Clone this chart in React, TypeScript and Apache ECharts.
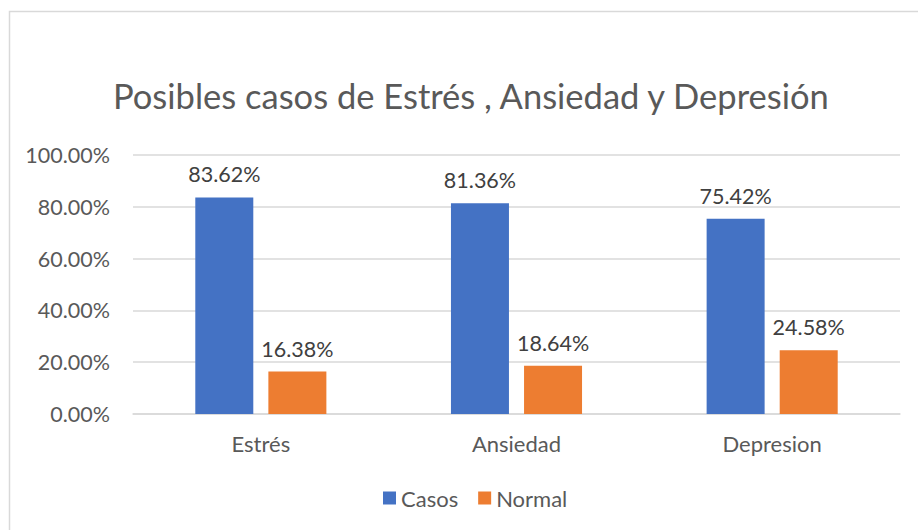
import React, { useEffect, useRef } from "react";
import * as echarts from "echarts";

const categories = ["Estrés", "Ansiedad", "Depresion"];
const casos = [83.62, 81.36, 75.42];
const normal = [16.38, 18.64, 24.58];
const titleText = "Posibles casos de Estrés , Ansiedad y Depresión";

const FONT = "Lato, 'Open Sans', sans-serif";

export default function App() {
  const ref = useRef<HTMLDivElement>(null);
  useEffect(() => {
    if (!ref.current) return;
    const chart = echarts.init(ref.current, undefined, { renderer: "svg" });
    const label = {
      show: true,
      position: "top",
      distance: 12,
      color: "#404040",
      fontSize: 21.5,
      fontFamily: FONT,
      formatter: (p: any) => p.value.toFixed(2) + "%",
    };
    chart.setOption({
      animation: false,
      backgroundColor: "#ffffff",
      textStyle: { fontFamily: FONT },
      title: {
        text: titleText,
        left: 108,
        top: 73,
        textStyle: { color: "#595959", fontSize: 34.5, fontWeight: "normal", fontFamily: FONT },
      },
      graphic: [
        {
          type: "rect",
          shape: { x: 9.5, y: 11.5, width: 1000, height: 1000 },
          style: { fill: "none", stroke: "#d9d9d9", lineWidth: 1.5 },
          silent: true,
        },
      ],
      legend: {
        top: 482,
        left: 378,
        itemWidth: 13,
        itemHeight: 13,
        itemGap: 20,
        icon: "rect",
        textStyle: { color: "#595959", fontSize: 22, fontFamily: FONT },
        data: ["Casos", "Normal"],
      },
      grid: { left: 133, right: 18, top: 155, bottom: 116, containLabel: false },
      xAxis: {
        type: "category",
        data: categories,
        axisTick: { show: false },
        axisLine: { lineStyle: { color: "#d9d9d9", width: 1.5 } },
        axisLabel: { color: "#595959", fontSize: 22, margin: 18, fontFamily: FONT },
      },
      yAxis: {
        type: "value",
        min: 0,
        max: 100,
        interval: 20,
        axisLine: { show: false },
        axisTick: { show: false },
        splitLine: { lineStyle: { color: "#d9d9d9", width: 1.5 } },
        axisLabel: {
          color: "#595959",
          fontSize: 21.5,
          margin: 23,
          fontFamily: FONT,
          formatter: (v: number) => v.toFixed(2) + "%",
        },
      },
      series: [
        {
          name: "Casos",
          type: "bar",
          data: casos,
          barWidth: 58,
          barGap: "26%",
          itemStyle: { color: "#4472c4" },
          label,
        },
        {
          name: "Normal",
          type: "bar",
          data: normal,
          barWidth: 58,
          barGap: "26%",
          itemStyle: { color: "#ed7d31" },
          label,
        },
      ],
    });
    return () => chart.dispose();
  }, []);
  return (
    <div
      ref={ref}
      style={{ position: "fixed", left: 0, top: 0, width: 918, height: 530 }}
    />
  );
}
